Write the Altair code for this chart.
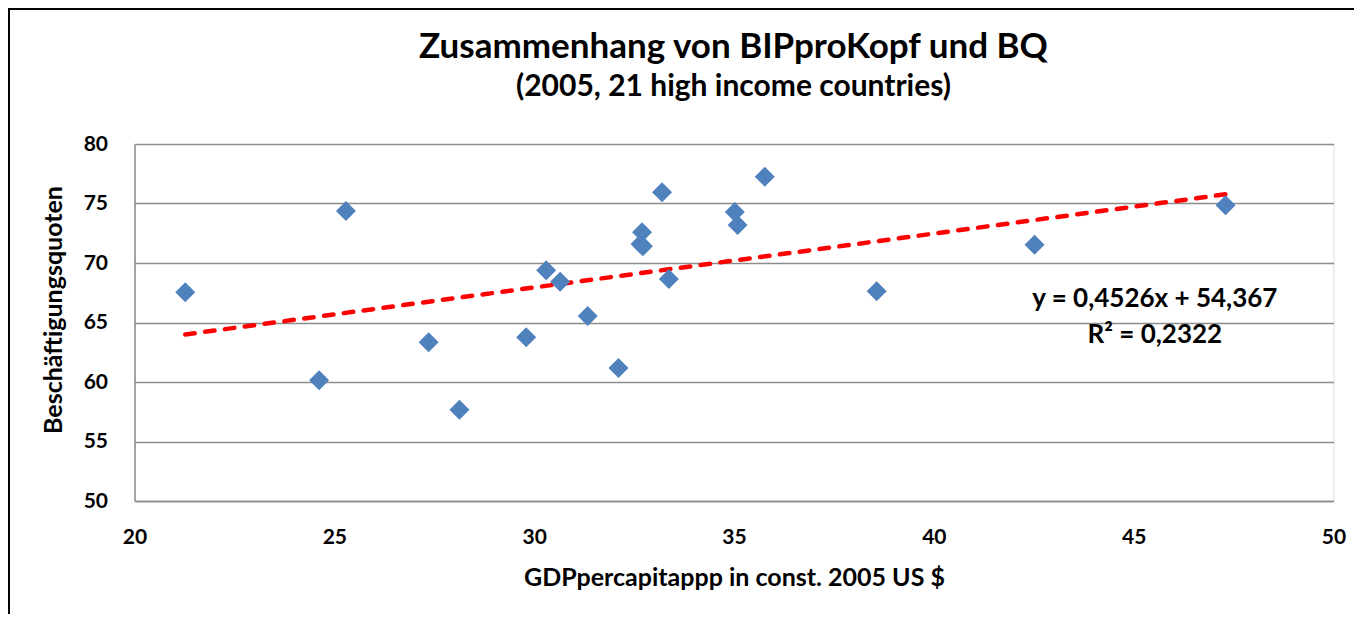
import altair as alt
import pandas as pd

# ---- data ----
gdp = [21.27, 25.29, 24.62, 27.36, 28.13, 29.80, 30.30, 30.65, 31.34, 32.11,
       32.70, 32.66, 32.72, 33.20, 33.37, 35.02, 35.09, 35.77, 38.57, 42.52, 47.30]
bq = [67.54, 74.37, 60.14, 63.34, 57.67, 63.76, 69.39, 68.43, 65.55, 61.18,
      72.58, 71.60, 71.40, 75.94, 68.66, 74.29, 73.19, 77.25, 67.62, 71.54, 74.85]
slope = 0.4526
intercept = 54.367
eq_lines = ["y = 0,4526x + 54,367", "R² = 0,2322"]
title_text = "Zusammenhang von BIPproKopf und BQ"
subtitle_text = "(2005, 21 high income countries)"
x_title = "GDPpercapitappp in const. 2005 US $"
y_title = "Beschäftigungsquoten"
x_ticks = [20, 25, 30, 35, 40, 45, 50]
y_ticks = [50, 55, 60, 65, 70, 75, 80]

points = pd.DataFrame({"gdp": gdp, "bq": bq})
x_ends = [min(gdp), max(gdp)]
trend = pd.DataFrame({"gdp": x_ends, "bq": [intercept + slope * v for v in x_ends]})
eq = pd.DataFrame({"label": ["\n".join(eq_lines)]})
titles = pd.DataFrame({"t": [title_text]})
subtitles = pd.DataFrame({"t": [subtitle_text]})

FONT = "Lato"
GRID = "#8c8c8c"

xscale = alt.Scale(domain=[20, 50], nice=False, zero=False)
yscale = alt.Scale(domain=[50, 80], nice=False, zero=False)

x_enc = alt.X(
    "gdp:Q", scale=xscale,
    axis=alt.Axis(
        values=x_ticks, grid=False, ticks=False, domainColor=GRID, domainWidth=1.5,
        labelFlush=False, labelOverlap=False,
        labelPadding=25, labelFontSize=21, labelFont=FONT, labelFontWeight="bold",
        labelColor="black", title=x_title,
        titleFont=FONT, titleFontSize=25, titleFontWeight="bold", titleColor="black",
        titleY=64, titleBaseline="top",
    ),
)
y_enc = alt.Y(
    "bq:Q", scale=yscale,
    axis=alt.Axis(
        values=y_ticks, grid=True, gridColor=GRID, gridWidth=1.5, ticks=False,
        domainColor=GRID, domainWidth=1.5, labelFlush=False, labelOverlap=False,
        labelPadding=27, labelFontSize=21, labelFont=FONT, labelFontWeight="bold",
        labelColor="black", title=y_title,
        titleFont=FONT, titleFontSize=25, titleFontWeight="bold", titleColor="black",
        titleAngle=270, titleX=-81.5, titleY=165.5, titleAlign="center",
        titleBaseline="middle",
    ),
)

pts = alt.Chart(points).mark_point(
    shape="diamond", filled=True, size=400, color="#4f81bd", opacity=1, strokeWidth=0
).encode(x=x_enc, y=y_enc)

line = alt.Chart(trend).mark_line(
    color="#ff0000", strokeWidth=4.5, strokeDash=[9.5, 10.5], strokeCap="round"
).encode(x="gdp:Q", y="bq:Q")

label = alt.Chart(eq).mark_text(
    align="center", baseline="alphabetic", lineBreak="\n", lineHeight=36.7,
    fontSize=26, font=FONT, fontWeight="bold", color="black"
).encode(x=alt.datum(45.53), y=alt.datum(66.33), text="label:N")

title_mark = alt.Chart(titles).mark_text(
    align="center", baseline="alphabetic", fontSize=35, font=FONT,
    fontWeight="bold", color="black"
).encode(x=alt.value(599), y=alt.value(-86), text="t:N")

subtitle_mark = alt.Chart(subtitles).mark_text(
    align="center", baseline="alphabetic", fontSize=30, font=FONT,
    fontWeight="bold", color="black"
).encode(x=alt.value(599), y=alt.value(-48), text="t:N")

border = alt.Chart(alt.Data(values=[{}])).mark_rect(
    filled=False, stroke="black", strokeWidth=2
).encode(x=alt.value(-125.5), x2=alt.value(1400), y=alt.value(-135), y2=alt.value(700))

chart = alt.layer(border, line, pts, label, title_mark, subtitle_mark).properties(
    width=1199, height=357,
    autosize=alt.AutoSizeParams(type="none"),
    padding={"left": 126.5, "top": 136, "right": 20, "bottom": 113},
).configure_view(stroke=None).configure(background="white")

chart.save("out.html", embed_options={"renderer": "svg", "actions": False})
